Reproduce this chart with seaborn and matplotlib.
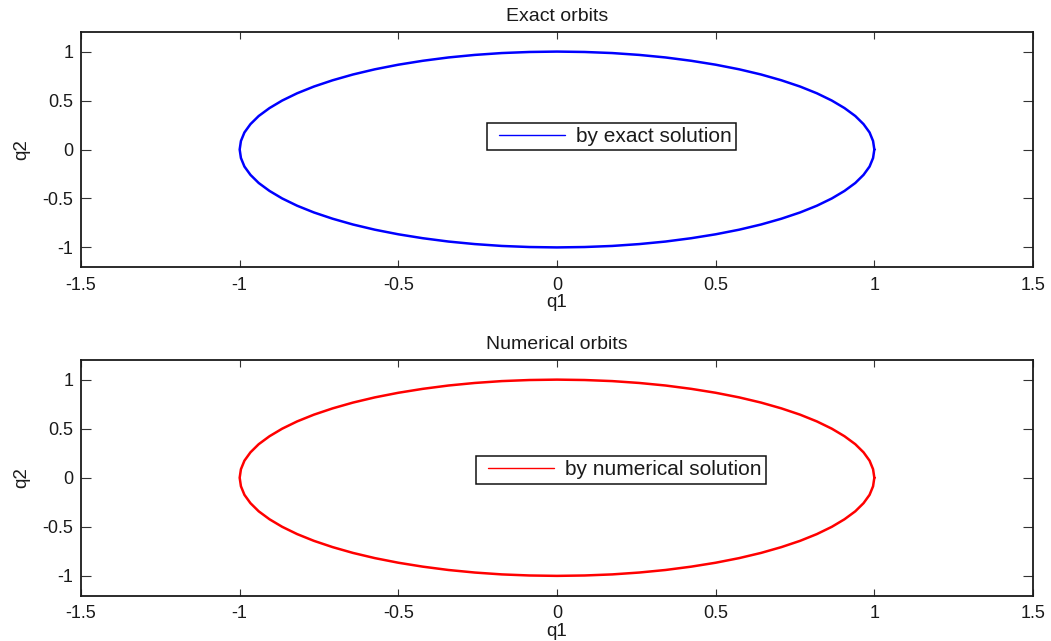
import numpy as np
import pandas as pd
import seaborn as sns
import matplotlib
matplotlib.use('Agg')
import matplotlib.pyplot as plt
from matplotlib.legend_handler import HandlerLine2D

# orbit points (unit circle, every 5 degrees)
q1_exact = [1.0, 0.996, 0.985, 0.966, 0.940, 0.906, 0.866, 0.819, 0.766, 0.707,
            0.643, 0.574, 0.5, 0.423, 0.342, 0.259, 0.174, 0.087, 0.0,
            -0.087, -0.174, -0.259, -0.342, -0.423, -0.5, -0.574, -0.643, -0.707,
            -0.766, -0.819, -0.866, -0.906, -0.940, -0.966, -0.985, -0.996, -1.0,
            -0.996, -0.985, -0.966, -0.940, -0.906, -0.866, -0.819, -0.766, -0.707,
            -0.643, -0.574, -0.5, -0.423, -0.342, -0.259, -0.174, -0.087, 0.0,
            0.087, 0.174, 0.259, 0.342, 0.423, 0.5, 0.574, 0.643, 0.707,
            0.766, 0.819, 0.866, 0.906, 0.940, 0.966, 0.985, 0.996, 1.0]
q2_exact = [0.0, 0.087, 0.174, 0.259, 0.342, 0.423, 0.5, 0.574, 0.643, 0.707,
            0.766, 0.819, 0.866, 0.906, 0.940, 0.966, 0.985, 0.996, 1.0,
            0.996, 0.985, 0.966, 0.940, 0.906, 0.866, 0.819, 0.766, 0.707,
            0.643, 0.574, 0.5, 0.423, 0.342, 0.259, 0.174, 0.087, 0.0,
            -0.087, -0.174, -0.259, -0.342, -0.423, -0.5, -0.574, -0.643, -0.707,
            -0.766, -0.819, -0.866, -0.906, -0.940, -0.966, -0.985, -0.996, -1.0,
            -0.996, -0.985, -0.966, -0.940, -0.906, -0.866, -0.819, -0.766, -0.707,
            -0.643, -0.574, -0.5, -0.423, -0.342, -0.259, -0.174, -0.087, 0.0]
# numerical orbit lies on top of the exact one in the picture
q1_num = list(q1_exact)
q2_num = list(q2_exact)

xticks = [-1.5, -1, -0.5, 0, 0.5, 1, 1.5]
xtick_labels = ['-1.5', '-1', '-0.5', '0', '0.5', '1', '1.5']
yticks = [-1, -0.5, 0, 0.5, 1]
ytick_labels = ['-1', '-0.5', '0', '0.5', '1']

sns.set_theme(style='ticks')
plt.rcParams['font.family'] = ['Liberation Sans', 'DejaVu Sans']

W, H = 1051, 641
fig = plt.figure(figsize=(W / 100, H / 100), dpi=100)
fig.patch.set_facecolor('white')


def px_axes(left, top, right, bottom):
    return fig.add_axes([left / W, 1 - bottom / H, (right - left) / W, (bottom - top) / H])


panels = [
    (pd.DataFrame({'q1': q1_exact, 'q2': q2_exact}), '#0000ff', 'Exact orbits',
     'by exact solution', (81, 32, 1033, 267), (611.4, 136.4)),
    (pd.DataFrame({'q1': q1_num, 'q2': q2_num}), '#ff0000', 'Numerical orbits',
     'by numerical solution', (81, 360, 1033, 595.5), (620.9, 469.9)),
]

txt = '#1a1a1a'
for df, color, title, label, box, leg_c in panels:
    ax = px_axes(*box)
    sns.lineplot(data=df, x='q1', y='q2', sort=False, estimator=None, color=color,
                 linewidth=1.8, ax=ax, label=label)
    ax.set_xlim(-1.5, 1.5)
    ax.set_ylim(-1.2, 1.2)
    ax.set_xticks(xticks)
    ax.set_xticklabels(xtick_labels)
    ax.set_yticks(yticks)
    ax.set_yticklabels(ytick_labels)
    ax.tick_params(direction='in', width=0.8, top=True, right=True,
                   labelsize=13, colors='#333333', labelcolor=txt)
    ax.tick_params(axis='x', length=5, pad=7)
    ax.tick_params(axis='y', length=7, pad=5.5)
    for s in ax.spines.values():
        s.set_linewidth(1.3)
        s.set_color(txt)
    ax.set_xlabel('q1', fontsize=13.5, color=txt, labelpad=0.3)
    ax.set_ylabel('q2', fontsize=13.5, color=txt, labelpad=9)
    ax.set_title(title, fontsize=14, color=txt, pad=8)
    leg = ax.legend(loc='center', bbox_to_anchor=(leg_c[0] / W, 1 - leg_c[1] / H),
                    bbox_transform=fig.transFigure, fontsize=15, frameon=True,
                    fancybox=False, shadow=False, framealpha=1, numpoints=2,
                    handler_map={plt.Line2D: HandlerLine2D(marker_pad=0.37)},
                    handlelength=3.9, handletextpad=0.15, borderpad=0.2,
                    borderaxespad=0)
    leg.get_frame().set_edgecolor('#111111')
    leg.get_frame().set_linewidth(1.1)
    for h in leg.legend_handles:
        h.set_linewidth(1.0)
    for t in leg.get_texts():
        t.set_color(txt)

fig.savefig('out.png', dpi=100, facecolor='white')
